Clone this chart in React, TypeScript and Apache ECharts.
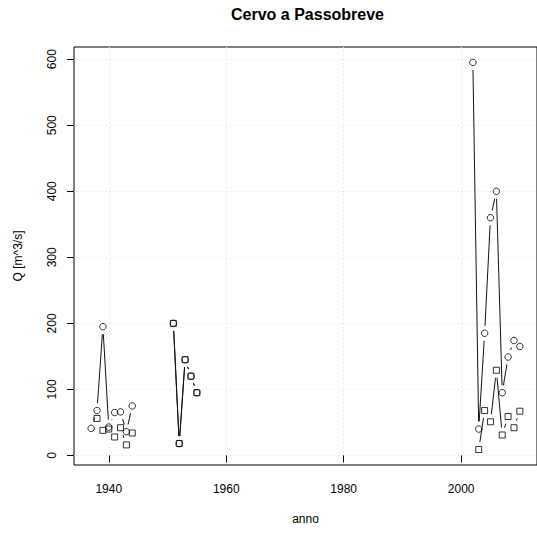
import React, { useEffect, useRef } from "react";
import * as echarts from "echarts";

const years = [1937, 1938, 1939, 1940, 1941, 1942, 1943, 1944, 1951, 1952, 1953, 1954, 1955, 2002, 2003, 2004, 2005, 2006, 2007, 2008, 2009, 2010];
const circleValues: (number | null)[] = [41, 68, 195, 43, 65, 66, 36, 75, 200, 18, 145, 120, 95, 595, 40, 185, 360, 400, 95, 149, 174, 165];
const squareValues: (number | null)[] = [null, 56, 38, 40, 28, 42, 16, 34, 200, 18, 145, 120, 95, null, 9, 68, 51, 129, 31, 59, 42, 67];
const xTicks = [1940, 1960, 1980, 2000];
const yTicks = [0, 100, 200, 300, 400, 500, 600];
const titleText = "Cervo a Passobreve";
const xName = "anno";
const yName = "Q [m^3/s]";

const FONT = "'Liberation Sans', Arial, Helvetica, sans-serif";

function rRange(vals: number[]) {
  const lo = Math.min(...vals);
  const hi = Math.max(...vals);
  const pad = (hi - lo) * 0.04;
  return [lo - pad, hi + pad];
}

function points(vals: (number | null)[]) {
  const out: number[][] = [];
  years.forEach((y, i) => {
    const v = vals[i];
    if (v != null) out.push([y, v]);
  });
  return out;
}

function segments(vals: (number | null)[]) {
  const out: number[][] = [];
  for (let i = 0; i < years.length - 1; i++) {
    const a = vals[i];
    const b = vals[i + 1];
    if (a == null || b == null) continue;
    if (years[i + 1] - years[i] !== 1) continue;
    out.push([years[i], a, years[i + 1], b]);
  }
  return out;
}

const GAP = 7.5;

function renderSeg(params: any, api: any) {
  const p1 = api.coord([api.value(0), api.value(1)]);
  const p2 = api.coord([api.value(2), api.value(3)]);
  const dx = p2[0] - p1[0];
  const dy = p2[1] - p1[1];
  const d = Math.hypot(dx, dy);
  if (d <= 2 * GAP) return { type: "group", children: [] };
  const ux = dx / d;
  const uy = dy / d;
  return {
    type: "line",
    shape: {
      x1: p1[0] + ux * GAP,
      y1: p1[1] + uy * GAP,
      x2: p2[0] - ux * GAP,
      y2: p2[1] - uy * GAP,
    },
    style: { stroke: "#111", lineWidth: 1 },
  };
}

export default function App() {
  const ref = useRef<HTMLDivElement>(null);
  useEffect(() => {
    if (!ref.current) return;
    const chart = echarts.init(ref.current, undefined, { renderer: "svg" });
    const [xMin, xMax] = rRange(years);
    const allVals = [...circleValues, ...squareValues].filter((v) => v != null) as number[];
    const [yMin, yMax] = rRange(allVals);
    const gridLeft = 74;
    const gridWidth = 467;
    const option: any = {
      animation: false,
      backgroundColor: "#fff",
      textStyle: { fontFamily: FONT },
      graphic: [
        {
          type: "text",
          x: gridLeft + gridWidth / 2,
          y: 6,
          style: {
            text: titleText,
            font: `bold 16px ${FONT}`,
            fill: "#000",
            textAlign: "center",
            textVerticalAlign: "top",
          },
        },
      ],
      grid: {
        left: gridLeft,
        top: 47,
        width: gridWidth,
        height: 418,
        show: true,
        borderColor: "#000",
        borderWidth: 1,
        backgroundColor: "transparent",
      },
      xAxis: {
        type: "value",
        min: xMin,
        max: xMax,
        name: xName,
        nameLocation: "middle",
        nameGap: 48,
        nameTextStyle: { fontSize: 12, color: "#000", fontFamily: FONT },
        axisLine: { show: false },
        axisTick: { show: true, length: 7, inside: false, customValues: xTicks, lineStyle: { color: "#000" } },
        axisLabel: { show: true, customValues: xTicks, margin: 18, fontSize: 12, color: "#000", fontFamily: FONT, formatter: (v: number) => String(v) },
        splitLine: { show: true, lineStyle: { color: "#e2e2e2", type: [1, 3], width: 1 } },
      },
      yAxis: {
        type: "value",
        min: yMin,
        max: yMax,
        name: yName,
        nameLocation: "middle",
        nameGap: 50,
        nameRotate: 90,
        nameTextStyle: { fontSize: 12, color: "#000", fontFamily: FONT },
        axisLine: { show: false },
        axisTick: { show: true, length: 7, inside: false, customValues: yTicks, lineStyle: { color: "#000" } },
        axisLabel: { show: true, customValues: yTicks, rotate: 90, margin: 16, fontSize: 12, color: "#000", fontFamily: FONT, formatter: (v: number) => String(v) },
        splitLine: { show: true, lineStyle: { color: "#e2e2e2", type: [1, 3], width: 1 } },
      },
      series: [
        {
          type: "custom",
          name: "circles-lines",
          renderItem: renderSeg,
          data: segments(circleValues),
          encode: { x: [0, 2], y: [1, 3] },
          silent: true,
        },
        {
          type: "custom",
          name: "squares-lines",
          renderItem: renderSeg,
          data: segments(squareValues),
          encode: { x: [0, 2], y: [1, 3] },
          silent: true,
        },
        {
          type: "scatter",
          name: "circles",
          symbol: "circle",
          symbolSize: 6.5,
          data: points(circleValues),
          itemStyle: { color: "rgba(0,0,0,0)", borderColor: "#000", borderWidth: 1 },
          silent: true,
        },
        {
          type: "scatter",
          name: "squares",
          symbol: "rect",
          symbolSize: 6,
          data: points(squareValues),
          itemStyle: { color: "rgba(0,0,0,0)", borderColor: "#000", borderWidth: 1 },
          silent: true,
        },
      ],
    };
    chart.setOption(option);
    return () => chart.dispose();
  }, []);
  return (
    <div
      ref={ref}
      style={{ position: "absolute", left: 0, top: 0, width: 537, height: 536 }}
    />
  );
}
